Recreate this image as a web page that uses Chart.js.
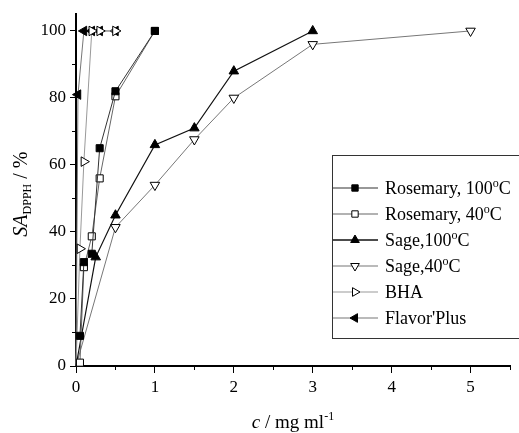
<!DOCTYPE html>
<html><head><meta charset="utf-8">
<script src="https://cdn.jsdelivr.net/npm/chart.js@4/dist/chart.umd.min.js"></script>
<style>html,body{margin:0;padding:0;background:#fff;}#wrap{width:519px;height:433px;position:relative;}</style>
</head><body><div id="wrap"><canvas id="c" width="519" height="433"></canvas></div>
<script>
const seriesLabels = ["Rosemary, 100°C", "Rosemary, 40°C", "Sage,100°C", "Sage,40°C", "BHA", "Flavor'Plus"];
const rosemary100X = [0.05, 0.1, 0.2, 0.3, 0.5, 1];
const rosemary100Y = [9, 31, 33.5, 65, 82, 100];
const rosemary40X = [0.05, 0.1, 0.2, 0.3, 0.5, 1];
const rosemary40Y = [1, 29.5, 38.7, 56, 80.5, 100];
const sage100X = [0, 0.25, 0.5, 1, 1.5, 2, 3];
const sage100Y = [0, 32.5, 45, 66, 71, 88, 100];
const sage40X = [0, 0.5, 1, 1.5, 2, 3, 5];
const sage40Y = [0, 41.4, 54, 67.6, 80, 96, 100];
const bhaX = [0, 0.05, 0.1, 0.2, 0.3, 0.5];
const bhaY = [0, 35, 61, 100, 100, 100];
const flavorX = [0, 0.025, 0.1, 0.2, 0.3, 0.5];
const flavorY = [0, 81, 100, 100, 100, 100];
const xTicks = [0, 1, 2, 3, 4, 5];
const xMinorTicks = [0.5, 1.5, 2.5, 3.5, 4.5, 5.5];
const yTicks = [0, 20, 40, 60, 80, 100];
const yMinorTicks = [10, 30, 50, 70, 90];

const seriesX = [rosemary100X, rosemary40X, sage100X, sage40X, bhaX, flavorX];
const seriesY = [rosemary100Y, rosemary40Y, sage100Y, sage40Y, bhaY, flavorY];
const styles = [
  {ps: 'rect', rot: 0, bg: '#000', line: '#333', lw: 1, r: 5},
  {ps: 'rect', rot: 0, bg: '#fff', line: '#666', lw: 1, r: 5},
  {ps: 'triangle', rot: 0, bg: '#000', line: '#111', lw: 1.2, r: 5.5},
  {ps: 'triangle', rot: 180, bg: '#fff', line: '#777', lw: 1, r: 5.5},
  {ps: 'triangle', rot: 90, bg: '#fff', line: '#999', lw: 1, r: 5.5},
  {ps: 'triangle', rot: 270, bg: '#000', line: '#777', lw: 1, r: 5.5}
];
const SERIF = "'Liberation Serif', 'Times New Roman', serif";

const datasets = seriesLabels.map((lab, i) => ({
  label: lab,
  data: seriesX[i].map((x, j) => ({x: x, y: seriesY[i][j]})),
  showLine: true,
  borderColor: styles[i].line,
  borderWidth: styles[i].lw,
  backgroundColor: styles[i].bg,
  pointStyle: styles[i].ps,
  rotation: styles[i].rot,
  pointBackgroundColor: styles[i].bg,
  pointBorderColor: '#000',
  pointBorderWidth: 1,
  pointRadius: ctx => (ctx.raw && ctx.raw.x === 0 && ctx.raw.y === 0) ? 0 : styles[i].r,
  clip: false,
  tension: 0
}));

function drawRich(ctx, parts, x, y, align) {
  let total = 0;
  parts.forEach(p => { ctx.font = p.font; p.w = ctx.measureText(p.t).width; total += p.w; });
  let cx = align === 'center' ? x - total / 2 : x;
  parts.forEach(p => { ctx.font = p.font; ctx.fillText(p.t, cx, y + (p.dy || 0)); cx += p.w; });
}
function labelParts(lab) {
  const segs = lab.split('°');
  const parts = [];
  segs.forEach((s, k) => {
    if (k > 0) parts.push({t: 'o', font: '12px ' + SERIF, dy: -7});
    if (s) parts.push({t: s, font: '18px ' + SERIF});
  });
  return parts;
}

const overlay = {
  id: 'overlay',
  afterDraw(chart) {
    const ctx = chart.ctx, xs = chart.scales.x, ys = chart.scales.y;
    const area = chart.chartArea;
    ctx.save();
    ctx.strokeStyle = '#000'; ctx.lineWidth = 1;
    ctx.beginPath();
    yMinorTicks.forEach(v => { const p = Math.round(ys.getPixelForValue(v)) + 0.5; ctx.moveTo(area.left - 4, p); ctx.lineTo(area.left, p); });
    xMinorTicks.forEach(v => { const p = Math.round(xs.getPixelForValue(v)) + 0.5; ctx.moveTo(p, area.bottom); ctx.lineTo(p, area.bottom + 4); });
    ctx.stroke();

    const lx = 332.5, ly = 155.5;
    ctx.strokeStyle = '#333'; ctx.lineWidth = 1;
    ctx.strokeRect(lx, ly, 230, 183);
    chart.data.datasets.forEach((ds, i) => {
      const y = 188 + i * 26;
      ctx.strokeStyle = styles[i].line; ctx.lineWidth = i === 2 ? 1.5 : 1.2;
      ctx.beginPath(); ctx.moveTo(333, y); ctx.lineTo(378, y); ctx.stroke();
      ctx.fillStyle = styles[i].bg; ctx.strokeStyle = '#000'; ctx.lineWidth = 1;
      Chart.helpers.drawPoint(ctx, {pointStyle: styles[i].ps, rotation: styles[i].rot, radius: styles[i].r - 0.5, borderWidth: 1}, 355, y);
      ctx.fillStyle = '#000'; ctx.textBaseline = 'alphabetic'; ctx.textAlign = 'left';
      drawRich(ctx, labelParts(ds.label), 385, y + 6, 'left');
    });

    ctx.fillStyle = '#000'; ctx.textAlign = 'left'; ctx.textBaseline = 'alphabetic';
    drawRich(ctx, [
      {t: 'c', font: 'italic 19px ' + SERIF},
      {t: ' / mg ml', font: '19px ' + SERIF},
      {t: '-1', font: '12px ' + SERIF, dy: -8}
    ], (area.left + area.right) / 2, 428, 'center');

    ctx.translate(27, (area.top + area.bottom) / 2 + 4);
    ctx.rotate(-Math.PI / 2);
    drawRich(ctx, [
      {t: 'SA', font: 'italic 20px ' + SERIF},
      {t: 'DPPH', font: '12px ' + SERIF, dy: 4},
      {t: ' / %', font: '20px ' + SERIF}
    ], 0, 0, 'center');
    ctx.restore();
  }
};

new Chart(document.getElementById('c'), {
  type: 'scatter',
  data: {datasets: datasets},
  options: {
    responsive: false, animation: false, devicePixelRatio: 1,
    layout: {padding: {top: 13, right: 9, left: 0, bottom: 0}},
    plugins: {legend: {display: false}, tooltip: {enabled: false}},
    scales: {
      x: {
        type: 'linear', position: 'bottom', min: 0, max: 5.5,
        afterBuildTicks: s => { s.ticks = xTicks.map(v => ({value: v})); },
        afterFit: s => { s.height = 67; },
        grid: {display: true, drawOnChartArea: false, drawTicks: true, tickLength: 7, color: '#000', tickColor: '#000', tickWidth: 1},
        border: {display: true, color: '#000', width: 2},
        ticks: {font: {family: SERIF, size: 17}, color: '#000', padding: 4, maxRotation: 0, autoSkip: false}
      },
      y: {
        type: 'linear', min: 0, max: 105,
        afterBuildTicks: s => { s.ticks = yTicks.map(v => ({value: v})); },
        afterFit: s => { s.width = 76; },
        grid: {display: true, drawOnChartArea: false, drawTicks: true, tickLength: 6, color: '#000', tickColor: '#000', tickWidth: 1},
        border: {display: true, color: '#000', width: 2},
        ticks: {font: {family: SERIF, size: 17}, color: '#000', padding: 4, autoSkip: false}
      }
    }
  },
  plugins: [overlay]
});
</script></body></html>
